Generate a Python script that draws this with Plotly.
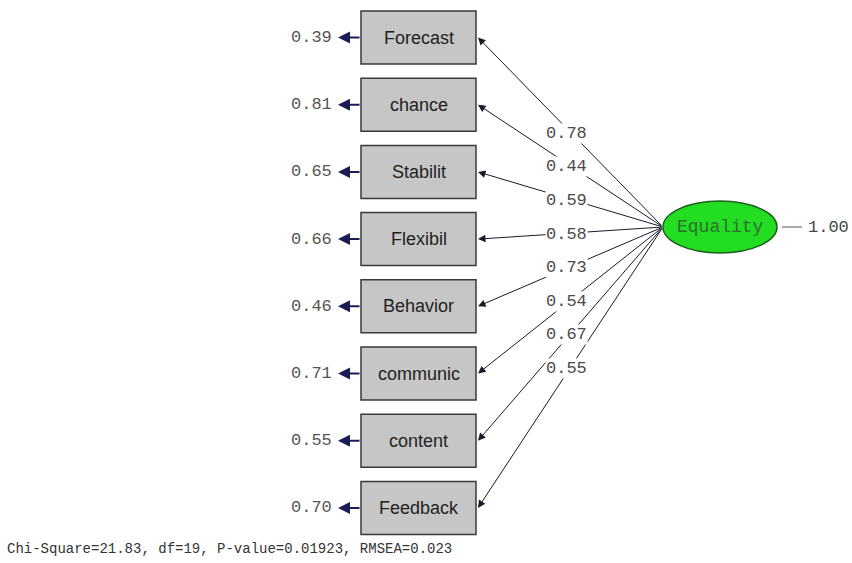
import plotly.graph_objects as go

indicators = ["Forecast", "chance", "Stabilit", "Flexibil", "Behavior", "communic", "content", "Feedback"]
loadings = ["0.78", "0.44", "0.59", "0.58", "0.73", "0.54", "0.67", "0.55"]
error_vars = ["0.39", "0.81", "0.65", "0.66", "0.46", "0.71", "0.55", "0.70"]
latent = "Equality"
latent_var = "1.00"
fit_text = "Chi-Square=21.83, df=19, P-value=0.01923, RMSEA=0.023"

# layout geometry (pixels)
box_x0, box_x1 = 361, 476
box_h = 53
y_first, y_step = 37.5, 67.2
ell_cx, ell_cy, ell_rx, ell_ry = 720, 227, 57, 26
src_x, src_y = ell_cx - ell_rx, ell_cy
label_x = 566

mono = "Liberation Mono, Courier New, monospace"
sans = "Liberation Sans, Arial, sans-serif"

fig = go.Figure()
shapes = []
annotations = []

for i, name in enumerate(indicators):
    yc = y_first + i * y_step
    shapes.append(dict(type="rect", x0=box_x0, x1=box_x1, y0=yc - box_h / 2, y1=yc + box_h / 2,
                       xref="x", yref="y", fillcolor="#c6c6c6",
                       line=dict(color="#3a3a3a", width=1.5), layer="above"))
    annotations.append(dict(x=(box_x0 + box_x1) / 2, y=yc, text=name, showarrow=False,
                            xref="x", yref="y", font=dict(family=sans, size=18, color="#222222")))
    # error arrow
    annotations.append(dict(x=338, y=yc, ax=box_x0, ay=yc, xref="x", yref="y", axref="x", ayref="y",
                            text="", showarrow=True, arrowhead=2, arrowsize=1.2, arrowwidth=2,
                            arrowcolor="#1c1c55"))
    annotations.append(dict(x=334, y=yc, text=error_vars[i], showarrow=False, xanchor="right",
                            xref="x", yref="y", font=dict(family=mono, size=17, color="#555555")))
    # loading arrow
    tip_x, tip_y = box_x1 + 2, yc
    annotations.append(dict(x=tip_x, y=tip_y, ax=src_x, ay=src_y, xref="x", yref="y", axref="x", ayref="y",
                            text="", showarrow=True, arrowhead=2, arrowsize=1.5, arrowwidth=1,
                            arrowcolor="#1a1a2a"))

# loading labels (drawn after lines so they interrupt them)
for i, val in enumerate(loadings):
    yc = y_first + i * y_step
    ly = src_y + 1 + (yc - src_y) * 0.5
    annotations.append(dict(x=label_x, y=ly, text=val, showarrow=False, xref="x", yref="y",
                            bgcolor="white", borderpad=0,
                            font=dict(family=mono, size=17, color="#4a4a4a")))

# latent ellipse
shapes.append(dict(type="circle", x0=ell_cx - ell_rx, x1=ell_cx + ell_rx, y0=ell_cy - ell_ry, y1=ell_cy + ell_ry,
                   xref="x", yref="y", fillcolor="#22dd22", line=dict(color="#1f5f1f", width=1.5), layer="above"))
annotations.append(dict(x=ell_cx, y=ell_cy, text=latent, showarrow=False, xref="x", yref="y",
                        font=dict(family=mono, size=18, color="#2f6f2f")))
shapes.append(dict(type="line", x0=ell_cx + ell_rx + 5, x1=802, y0=ell_cy, y1=ell_cy,
                   xref="x", yref="y", line=dict(color="#555555", width=1)))
annotations.append(dict(x=806, y=ell_cy, text=latent_var, showarrow=False, xanchor="left",
                        xref="x", yref="y", font=dict(family=mono, size=17, color="#444444")))

annotations.append(dict(x=5, y=549, text=fit_text, showarrow=False, xanchor="left",
                        xref="x", yref="y", font=dict(family=mono, size=14, color="#333333")))

fig.update_layout(
    width=852, height=563, margin=dict(l=0, r=0, t=0, b=0),
    paper_bgcolor="white", plot_bgcolor="white",
    xaxis=dict(range=[0, 852], visible=False, fixedrange=True),
    yaxis=dict(range=[563, 0], visible=False, fixedrange=True),
    shapes=shapes, annotations=annotations, showlegend=False,
)
fig.write_html("out.html", config={"displayModeBar": False},
               post_script="document.body.style.margin='0';document.body.style.overflow='hidden';")
